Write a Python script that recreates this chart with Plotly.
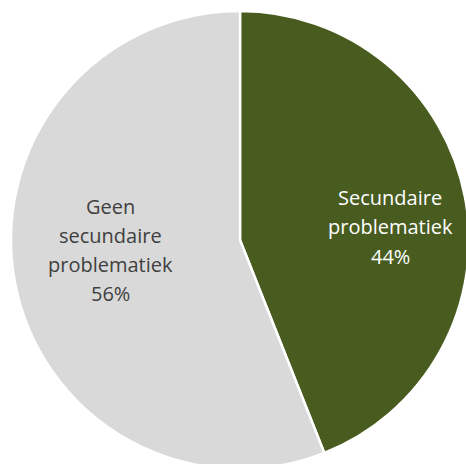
import plotly.graph_objects as go

labels = ["Secundaire problematiek", "Geen secundaire problematiek"]
label_lines = [["Secundaire", "problematiek"], ["Geen", "secundaire", "problematiek"]]
values = [44, 56]
colors = ["#485C20", "#D9D9D9"]
text_colors = ["#FFFFFF", "#404040"]

W, H = 480, 480
CX, CY, R = 240, 240, 229
# label block positions (page pixels): centre x, first-line y, line pitch
label_pos = [(390, 196, 29.5), (110, 205, 29.3)]

fig = go.Figure(go.Pie(
    labels=labels,
    values=values,
    sort=False,
    direction="clockwise",
    rotation=0,
    marker=dict(colors=colors, line=dict(color="#FFFFFF", width=2.5)),
    textinfo="none",
    showlegend=False,
    hoverinfo="skip",
    domain=dict(x=[(CX - R) / W, (CX + R) / W],
                y=[(H - CY - R) / H, (H - CY + R) / H]),
))

total = sum(values)
for lines, v, col, (cx, y0, pitch) in zip(label_lines, values, text_colors, label_pos):
    all_lines = lines + [f"{round(100 * v / total)}%"]
    for i, line in enumerate(all_lines):
        py = y0 + i * pitch
        fig.add_annotation(
            x=cx / W, y=1 - (py + 1) / H,
            xref="paper", yref="paper",
            text=line, showarrow=False,
            xanchor="center", yanchor="middle",
            font=dict(family="Open Sans", size=20, color=col),
        )

fig.update_layout(
    width=W, height=H,
    margin=dict(l=0, r=0, t=0, b=0),
    paper_bgcolor="#FFFFFF",
)
fig.write_html(
    "out.html",
    config={"displayModeBar": False},
    post_script="document.body.style.margin='0';document.body.style.overflow='hidden';",
)
